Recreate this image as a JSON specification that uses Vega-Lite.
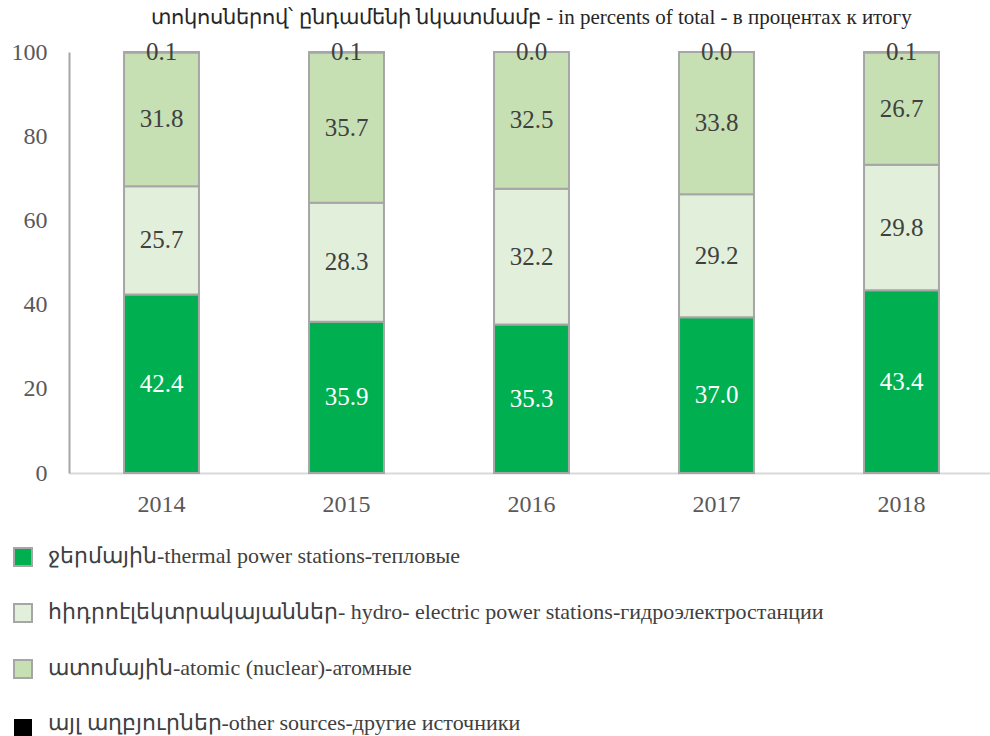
{
  "$schema": "https://vega.github.io/schema/vega-lite/v6.json",
  "width": 925,
  "height": 421,
  "autosize": {"type": "none"},
  "padding": {"left": 69, "top": 52, "right": 0, "bottom": 263},
  "background": "white",
  "config": {
    "view": {"stroke": null},
    "font": "Liberation Serif"
  },
  "title": {
    "text": "տոկոսներով՝ ընդամենի նկատմամբ - in percents of total - в процентах к итогу",
    "font": "Liberation Serif",
    "fontSize": 21,
    "fontWeight": "normal",
    "color": "#262626",
    "anchor": "middle",
    "offset": 12
  },
  "data": {
    "values": [
      {"year": "2014", "source": "ջերմային-thermal power stations-тепловые", "value": 42.4},
      {"year": "2014", "source": "հիդրոէլեկտրակայաններ- hydro- electric power stations-гидроэлектростанции", "value": 25.7},
      {"year": "2014", "source": "ատոմային-atomic (nuclear)-атомные", "value": 31.8},
      {"year": "2014", "source": "այլ աղբյուրներ-other sources-другие источники", "value": 0.1},
      {"year": "2015", "source": "ջերմային-thermal power stations-тепловые", "value": 35.9},
      {"year": "2015", "source": "հիդրոէլեկտրակայաններ- hydro- electric power stations-гидроэлектростанции", "value": 28.3},
      {"year": "2015", "source": "ատոմային-atomic (nuclear)-атомные", "value": 35.7},
      {"year": "2015", "source": "այլ աղբյուրներ-other sources-другие источники", "value": 0.1},
      {"year": "2016", "source": "ջերմային-thermal power stations-тепловые", "value": 35.3},
      {"year": "2016", "source": "հիդրոէլեկտրակայաններ- hydro- electric power stations-гидроэлектростанции", "value": 32.2},
      {"year": "2016", "source": "ատոմային-atomic (nuclear)-атомные", "value": 32.5},
      {"year": "2016", "source": "այլ աղբյուրներ-other sources-другие источники", "value": 0.0},
      {"year": "2017", "source": "ջերմային-thermal power stations-тепловые", "value": 37.0},
      {"year": "2017", "source": "հիդրոէլեկտրակայաններ- hydro- electric power stations-гидроэлектростанции", "value": 29.2},
      {"year": "2017", "source": "ատոմային-atomic (nuclear)-атомные", "value": 33.8},
      {"year": "2017", "source": "այլ աղբյուրներ-other sources-другие источники", "value": 0.0},
      {"year": "2018", "source": "ջերմային-thermal power stations-тепловые", "value": 43.4},
      {"year": "2018", "source": "հիդրոէլեկտրակայաններ- hydro- electric power stations-гидроэлектростанции", "value": 29.8},
      {"year": "2018", "source": "ատոմային-atomic (nuclear)-атомные", "value": 26.7},
      {"year": "2018", "source": "այլ աղբյուրներ-other sources-другие источники", "value": 0.1}
    ]
  },
  "transform": [
    {"calculate": "indexof(['ջերմային-thermal power stations-тепловые','հիդրոէլեկտրակայաններ- hydro- electric power stations-гидроэлектростанции','ատոմային-atomic (nuclear)-атомные','այլ աղբյուրներ-other sources-другие источники'], datum.source)", "as": "ord"},
    {"stack": "value", "groupby": ["year"], "sort": [{"field": "ord", "order": "ascending"}], "as": ["v0", "v1"]},
    {"calculate": "(datum.v0 + datum.v1) / 2", "as": "mid"}
  ],
  "encoding": {
    "x": {
      "field": "year",
      "type": "nominal",
      "scale": {"paddingInner": 0.595, "paddingOuter": 0.2975},
      "axis": {
        "title": null,
        "labelAngle": 0,
        "ticks": false,
        "domainColor": "#D9D9D9",
        "domainWidth": 2,
        "labelFont": "Liberation Serif",
        "labelFontSize": 24,
        "labelColor": "#595959",
        "labelPadding": 19
      }
    }
  },
  "layer": [
    {
      "mark": {"type": "bar", "stroke": "#A6A6A6", "strokeWidth": 2},
      "encoding": {
        "y": {
          "field": "v1",
          "type": "quantitative",
          "scale": {"domain": [0, 100]},
          "axis": {
            "title": null,
            "values": [0, 20, 40, 60, 80, 100],
            "grid": false,
            "ticks": false,
            "domainColor": "#A6A6A6",
            "domainWidth": 2,
            "labelFont": "Liberation Serif",
            "labelFontSize": 24,
            "labelColor": "#595959",
            "labelPadding": 22
          }
        },
        "y2": {"field": "v0"},
        "color": {
          "field": "source",
          "type": "nominal",
          "scale": {
            "domain": [
              "ջերմային-thermal power stations-тепловые",
              "հիդրոէլեկտրակայաններ- hydro- electric power stations-гидроэлектростанции",
              "ատոմային-atomic (nuclear)-атомные",
              "այլ աղբյուրներ-other sources-другие источники"
            ],
            "range": ["#00B050", "#E2EFDA", "#C6E0B4", "#000000"]
          },
          "legend": {
            "title": null,
            "orient": "none",
            "direction": "vertical",
            "legendX": -57,
            "legendY": 493,
            "symbolType": "square",
            "symbolSize": 324,
            "symbolStrokeColor": "#A6A6A6",
            "symbolStrokeWidth": 2,
            "labelFont": "Liberation Serif",
            "labelFontSize": 22,
            "labelColor": "#404040",
            "labelOffset": 14,
            "labelLimit": 0,
            "rowPadding": 30,
            "encode": {
              "symbols": {
                "update": {
                  "stroke": {"signal": "datum.value === 'այլ աղբյուրներ-other sources-другие источники' ? '#000000' : '#A6A6A6'"},
                  "size": {"signal": "datum.value === 'այլ աղբյուրներ-other sources-другие источники' ? 256 : 324"},
                  "y": {"signal": "datum.value === 'այլ աղբյուրներ-other sources-другие источники' ? 16 : 12"}
                }
              }
            }
          }
        }
      }
    },
    {
      "mark": {"type": "text", "font": "Liberation Serif", "fontSize": 25, "baseline": "middle"},
      "encoding": {
        "y": {"field": "mid", "type": "quantitative"},
        "text": {"field": "value", "type": "quantitative", "format": ".1f"},
        "color": {
          "condition": {"test": "datum.ord === 0", "value": "#FFFFFF"},
          "value": "#404040"
        }
      }
    }
  ]
}
